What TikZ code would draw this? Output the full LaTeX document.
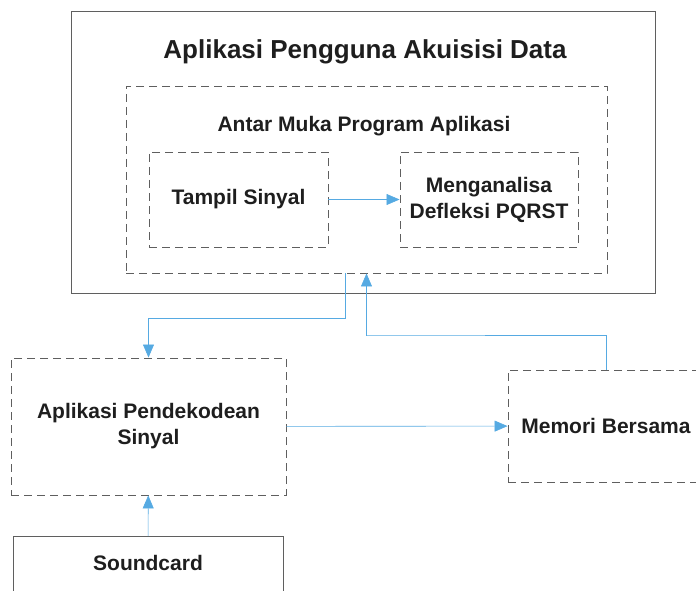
\documentclass[tikz,border=0pt]{standalone}
\usepackage{fontspec}
\setmainfont{Liberation Sans}
\usetikzlibrary{arrows.meta}
\definecolor{linkblue}{RGB}{86,170,226}
\definecolor{edgegray}{RGB}{95,95,95}
\definecolor{inkgray}{RGB}{30,30,30}

\begin{document}
\begin{tikzpicture}[x=1pt,y=-1pt]
\tikzstyle{frame} = [
 draw=edgegray,
 line width=0.9pt,
 inner sep=0pt,
 text=inkgray,
 align=center,
 font=\bfseries\fontsize{21}{26}\selectfont
]
\tikzstyle{box} = [frame, dash pattern=on 8pt off 5pt]
\tikzstyle{caption} = [text=inkgray, font=\bfseries\fontsize{21}{26}\selectfont]
\tikzstyle{link} = [draw=linkblue, line width=0.6pt, -{Triangle[length=13pt,width=11pt]}]

\useasboundingbox (0,0) rectangle (696,591);

\node[frame, minimum width=584pt, minimum height=282pt] at (363,152) (app) {};
\node[caption, font=\bfseries\fontsize{26}{30}\selectfont] at (365,52) (apptitle) {Aplikasi Pengguna Akuisisi Data};
\node[box, minimum width=481pt, minimum height=187pt] at (366.5,179.5) (api) {};
\node[caption] at (364,126) (apititle) {Antar Muka Program Aplikasi};
\node[box, minimum width=179pt, minimum height=95pt] at (238.5,199.5) (show) {Tampil Sinyal};
\node[box, minimum width=178pt, minimum height=95pt] at (489,199.5) (pqrst) {Menganalisa\\Defleksi PQRST};

\node[box, minimum width=275pt, minimum height=137pt] at (148.5,426.5) (dec) {Aplikasi Pendekodean\\Sinyal};
\node[box, minimum width=196pt, minimum height=112pt] at (606,426) (mem) {Memori Bersama};
\node[frame, minimum width=270pt, minimum height=70pt, text depth=18pt, anchor=north] at (148,536) (snd) {Soundcard};

\coordinate (down) at (345,318);
\coordinate (up) at (366,335);

\path[link] (show) -- (pqrst);
\path[link] (api.south -| down) -- (down) -| (dec.north);
\path[link] (mem.north) |- (up) -| (api.south);
\path[link] (dec) -- (mem);
\path[link] (snd) -- (dec);
\end{tikzpicture}
\end{document}
